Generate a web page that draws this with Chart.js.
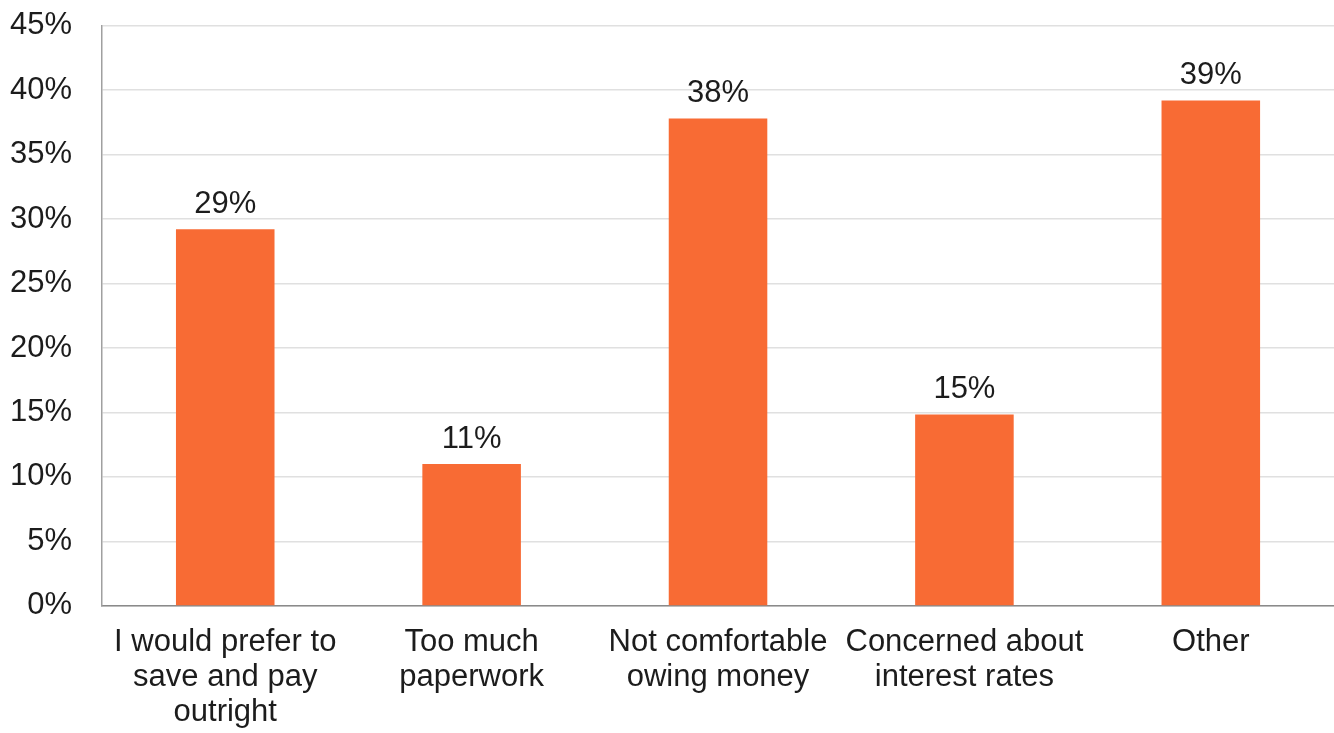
<!DOCTYPE html>
<html>
<head>
<meta charset="utf-8">
<script src="https://cdn.jsdelivr.net/npm/chart.js@4/dist/chart.umd.min.js"></script>
<style>
html,body{margin:0;padding:0;background:#fff;overflow:hidden;}
#wrap{width:1334px;height:733px;overflow:hidden;position:relative;}
#c{position:absolute;left:-20px;top:-23px;}
</style>
</head>
<body>
<div id="wrap"><canvas id="c" width="1354" height="772"></canvas></div>
<script>
const categories = [
  ["I would prefer to", "save and pay", "outright"],
  ["Too much", "paperwork"],
  ["Not comfortable", "owing money"],
  ["Concerned about", "interest rates"],
  ["Other"]
];
const values = [29.2, 11.0, 37.8, 14.85, 39.2];
const yTicksMax = 45;
const yTickStep = 5;

const FONT = "'Liberation Sans', Arial, Helvetica, sans-serif";
const TEXT = '#1c1c1c';

const valueLabels = {
  id: 'valueLabels',
  afterDatasetsDraw(chart) {
    const ctx = chart.ctx;
    const meta = chart.getDatasetMeta(0);
    ctx.save();
    ctx.font = '31px ' + FONT;
    ctx.fillStyle = TEXT;
    ctx.textAlign = 'center';
    ctx.textBaseline = 'alphabetic';
    meta.data.forEach((bar, i) => {
      ctx.fillText(Math.round(values[i]) + '%', bar.x, bar.y - 16);
    });
    ctx.restore();
  }
};

new Chart(document.getElementById('c'), {
  type: 'bar',
  data: {
    labels: categories,
    datasets: [{
      data: values,
      backgroundColor: '#F86B34',
      borderWidth: 0,
      categoryPercentage: 0.4,
      barPercentage: 1.0
    }]
  },
  options: {
    responsive: false,
    animation: false,
    layout: { padding: { left: 0, right: 0, top: 0, bottom: 0 } },
    plugins: { legend: { display: false }, tooltip: { enabled: false } },
    scales: {
      x: {
        grid: { display: false, drawTicks: false },
        border: { display: true, color: '#8a8a8a', width: 1.5 },
        ticks: {
          color: TEXT,
          font: { family: FONT, size: 31, lineHeight: 1.13 },
          padding: 19,
          maxRotation: 0,
          autoSkip: false
        }
      },
      y: {
        min: 0,
        max: yTicksMax,
        grid: { color: '#e0e0e0', lineWidth: 1.5, drawTicks: false },
        border: { display: true, color: '#a0a0a0', width: 1.5 },
        ticks: {
          stepSize: yTickStep,
          color: TEXT,
          font: { family: FONT, size: 31 },
          padding: 30,
          callback: v => v + '%'
        }
      }
    }
  },
  plugins: [valueLabels]
});
</script>
</body>
</html>
